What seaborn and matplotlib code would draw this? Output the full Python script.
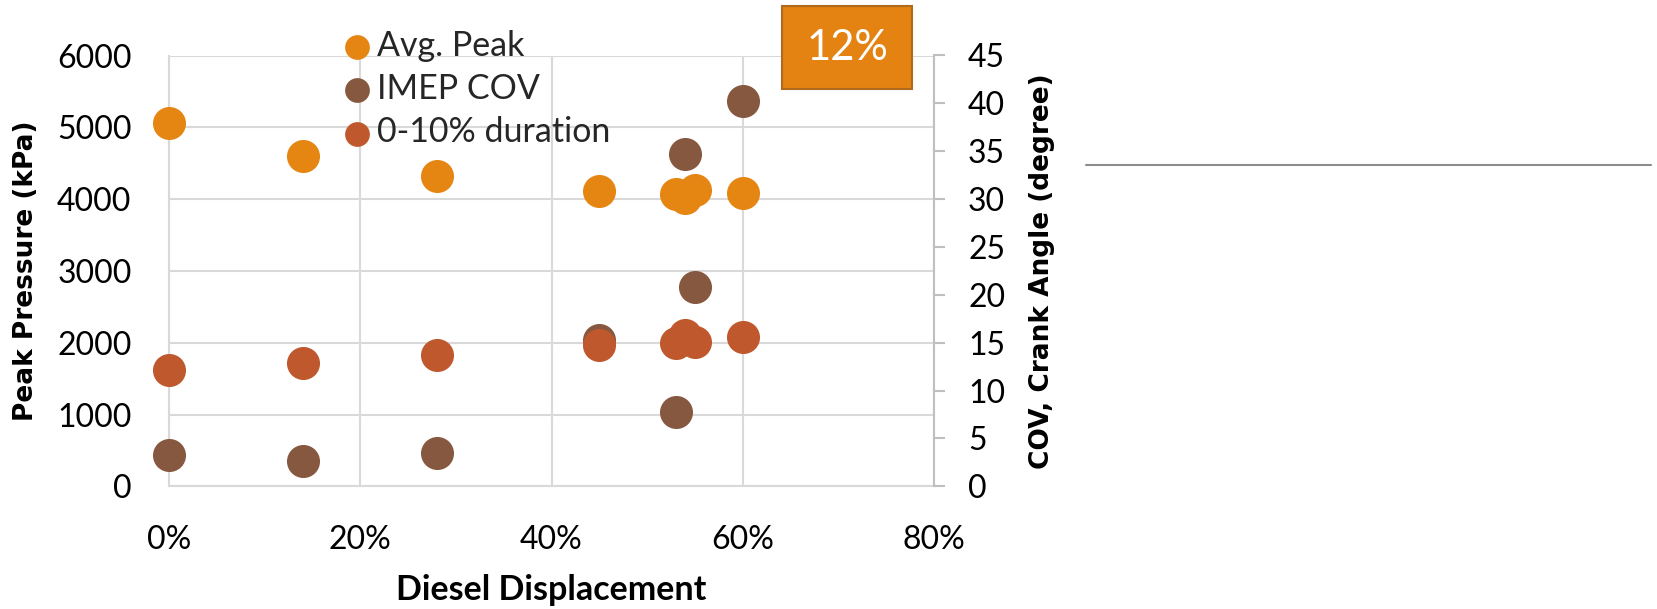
import matplotlib
matplotlib.use("Agg")
import matplotlib.pyplot as plt
import pandas as pd
import seaborn as sns
from matplotlib.lines import Line2D
from matplotlib.patches import Rectangle
from matplotlib.ticker import MultipleLocator, PercentFormatter

# Diesel displacement fraction of each test point
displacement = [0.00, 0.14, 0.28, 0.45, 0.53, 0.54, 0.55, 0.60]
# Average peak cylinder pressure (kPa) - left axis
avg_peak = [5060, 4605, 4318, 4110, 4067, 4015, 4125, 4085]
# IMEP coefficient of variation (%) - right axis
imep_cov = [3.3, 2.6, 3.5, 15.3, 7.8, 34.7, 20.8, 40.2]
# 0-10% burn duration (crank angle degrees) - right axis
duration_0_10 = [12.2, 12.9, 13.7, 14.8, 15.0, 15.8, 15.1, 15.6]

series_names = ["Avg. Peak", "IMEP COV", "0-10% duration"]
series_colors = ["#E58613", "#875840", "#C0582D"]
badge_text = "12%"

df = pd.DataFrame({
    "displacement": displacement,
    "avg_peak": avg_peak,
    "imep_cov": imep_cov,
    "duration": duration_0_10,
})

sns.set_theme(style="white")
plt.rcParams["font.family"] = ["Lato", "DejaVu Sans"]

W, H = 1657, 609
fig = plt.figure(figsize=(W / 100, H / 100), dpi=100)

x0, x1, y_top, y_bot = 169, 934, 55.5, 486.3
ax = fig.add_axes([x0 / W, 1 - y_bot / H, (x1 - x0) / W, (y_bot - y_top) / H])
ax2 = ax.twinx()

grid_c = "#d9d9d9"
axis_c = "#bfbfbf"
dot = 566

sns.scatterplot(data=df, x="displacement", y="avg_peak", ax=ax, s=dot,
                color=series_colors[0], linewidth=0, clip_on=False,
                label=series_names[0], legend=False, zorder=3)
sns.scatterplot(data=df, x="displacement", y="imep_cov", ax=ax2, s=dot,
                color=series_colors[1], linewidth=0, clip_on=False,
                label=series_names[1], legend=False, zorder=3)
sns.scatterplot(data=df, x="displacement", y="duration", ax=ax2, s=dot,
                color=series_colors[2], linewidth=0, clip_on=False,
                label=series_names[2], legend=False, zorder=4)

# Primary axis: pressure
ax.set_xlim(0, 0.8)
ax.set_ylim(0, 6000)
ax.xaxis.set_major_locator(MultipleLocator(0.2))
ax.xaxis.set_major_formatter(PercentFormatter(1.0, decimals=0))
ax.yaxis.set_major_locator(MultipleLocator(1000))
ax.grid(True, color=grid_c, linewidth=1.5)
ax.set_axisbelow(True)
for side in ["top", "right"]:
    ax.spines[side].set_visible(False)
for side in ["left", "bottom"]:
    ax.spines[side].set_color(grid_c)
    ax.spines[side].set_linewidth(1.5)
ax.tick_params(axis="both", length=0, labelsize=23, colors="black")
ax.tick_params(axis="x", pad=28)
ax.tick_params(axis="y", pad=27)

ax.set_xlabel("Diesel Displacement", fontsize=24.5, fontweight="bold",
              color="black")
ax.xaxis.set_label_coords(0.5, (y_bot - 590) / (y_bot - y_top))
ax.xaxis.label.set_va("center")

ax.set_ylabel("Peak Pressure (kPa)", fontsize=19, fontweight="bold",
              family="DejaVu Sans", color="black")
ax.yaxis.label.set_va("center")
ax.yaxis.set_label_coords((26 - x0) / (x1 - x0), 0.5)

# Secondary axis: COV and crank angle
ax2.set_ylim(0, 45)
ax2.yaxis.set_major_locator(MultipleLocator(5))
for side in ["top", "left", "bottom"]:
    ax2.spines[side].set_visible(False)
ax2.spines["right"].set_color(axis_c)
ax2.spines["right"].set_linewidth(1.5)
ax2.tick_params(axis="y", direction="out", length=8, width=1.5,
                color=axis_c, labelsize=23, labelcolor="black", pad=16.5)
ax2.set_ylabel("COV, Crank Angle (degree)", fontsize=19, fontweight="bold",
               family="DejaVu Sans", color="black")
ax2.yaxis.label.set_va("center")
ax2.yaxis.set_label_coords((1042 - x0) / (x1 - x0), 0.5)
ax2.grid(False)

# Legend combining both axes
handles = ax.collections[:1] + ax2.collections[:2]
leg = fig.legend(handles, series_names, loc="upper left",
                 bbox_to_anchor=(343 / W, 1 - 30 / H), frameon=False,
                 fontsize=24.5, markerscale=0.75, handlelength=0.82,
                 handletextpad=0.18, labelspacing=0.33, borderpad=0,
                 borderaxespad=0)

# Orange badge in the top corner
bx0, bx1, by0, by1 = 781.7, 912.3, 6, 89
fig.patches.append(Rectangle((bx0 / W, 1 - by1 / H), (bx1 - bx0) / W,
                             (by1 - by0) / H, transform=fig.transFigure,
                             facecolor="#E48312", edgecolor="#B06A1E",
                             linewidth=1.5, zorder=5))
fig.text((bx0 + bx1) / 2 / W, 1 - (by0 + by1) / 2 / H, badge_text,
         color="white", fontsize=30, ha="center", va="center", zorder=6)

# Separator line to the right
fig.add_artist(Line2D([1086 / W, 1650.7 / W], [1 - 164.7 / H] * 2,
                      transform=fig.transFigure, color="#8c8c8c",
                      linewidth=1.5))

fig.savefig("out.png", dpi=100, facecolor="white")
